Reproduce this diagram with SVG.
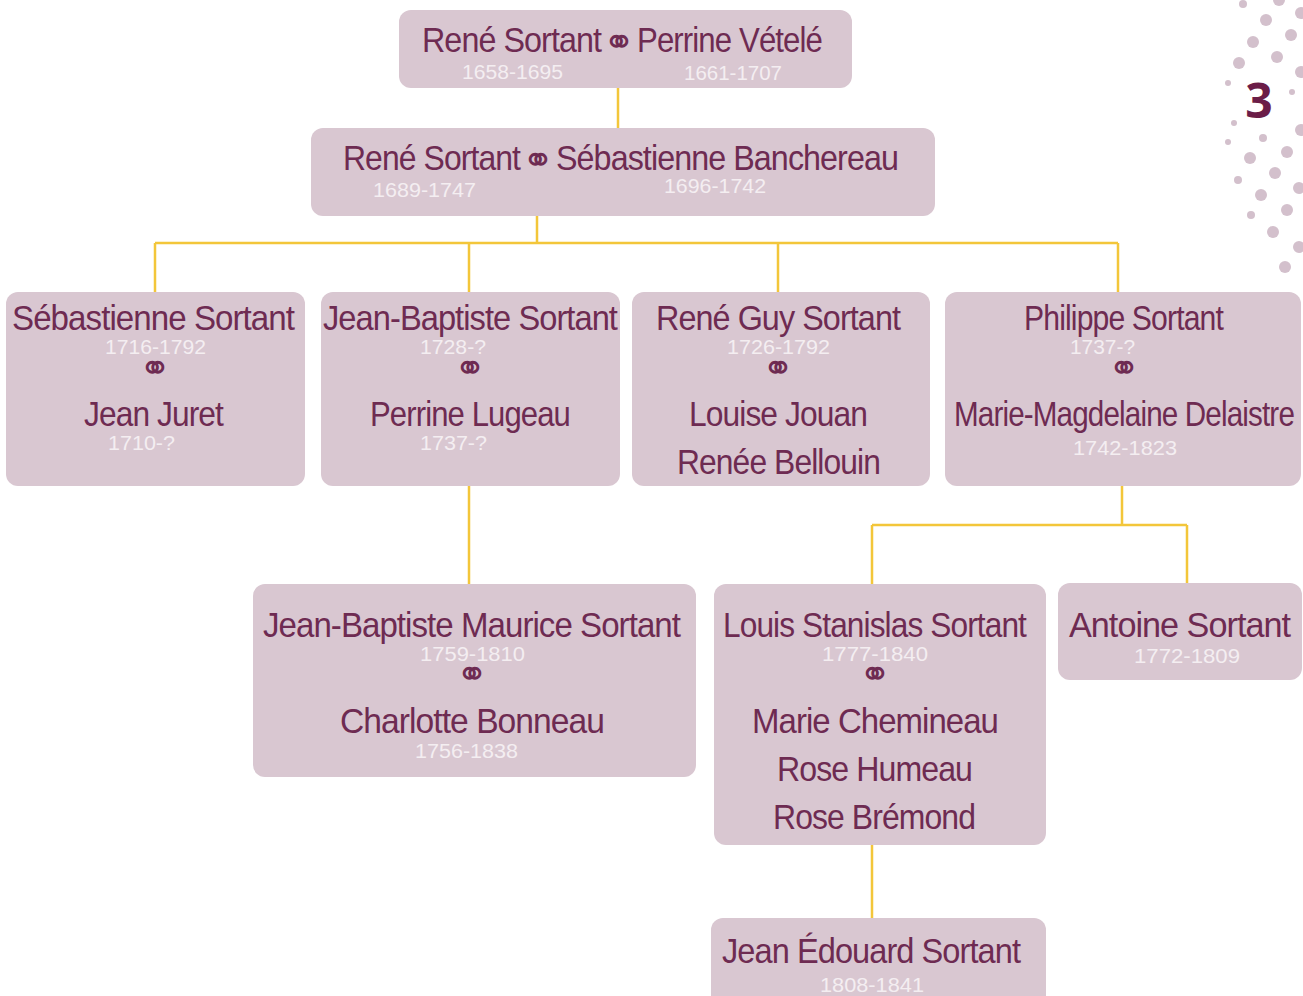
<svg xmlns="http://www.w3.org/2000/svg" width="1303" height="996" viewBox="0 0 1303 996">
<style>
.box{fill:#d9c7d1}
.n{font-family:"Liberation Sans",Arial,sans-serif;font-size:35px;fill:#6e2b52;letter-spacing:-1px}
.d{font-family:"Liberation Sans",Arial,sans-serif;font-size:20px;fill:#f4eef1}
.m{font-family:"DejaVu Sans",sans-serif;font-size:38px;fill:#6e2b52;text-anchor:middle}
.c{fill:none;stroke:#f3c63a;stroke-width:2.5}
.dot{fill:#d3c0cc}
</style>
<rect width="1303" height="996" fill="#ffffff"/>
<g id="decor">
<circle class="dot" cx="1279" cy="0" r="6"/>
<circle class="dot" cx="1266" cy="20" r="6"/>
<circle class="dot" cx="1301" cy="13" r="6"/>
<circle class="dot" cx="1253" cy="42" r="6"/>
<circle class="dot" cx="1291" cy="35" r="6"/>
<circle class="dot" cx="1239" cy="63" r="6"/>
<circle class="dot" cx="1277" cy="57" r="6"/>
<circle class="dot" cx="1301" cy="72" r="6"/>
<circle class="dot" cx="1301" cy="130" r="6"/>
<circle class="dot" cx="1250" cy="158" r="6"/>
<circle class="dot" cx="1287" cy="152" r="6"/>
<circle class="dot" cx="1275" cy="173" r="6"/>
<circle class="dot" cx="1299" cy="188" r="6"/>
<circle class="dot" cx="1261" cy="195" r="6"/>
<circle class="dot" cx="1287" cy="210" r="6"/>
<circle class="dot" cx="1273" cy="232" r="6"/>
<circle class="dot" cx="1299" cy="247" r="6"/>
<circle class="dot" cx="1285" cy="267" r="6"/>
<circle class="dot" cx="1243" cy="4" r="4"/>
<circle class="dot" cx="1228" cy="83" r="3"/>
<circle class="dot" cx="1292" cy="92" r="3"/>
<circle class="dot" cx="1234" cy="123" r="3"/>
<circle class="dot" cx="1263" cy="138" r="4"/>
<circle class="dot" cx="1228" cy="142" r="3"/>
<circle class="dot" cx="1238" cy="180" r="4"/>
<circle class="dot" cx="1251" cy="215" r="4"/>
<text x="1259" y="118" font-family="'Open Sans','Liberation Sans',sans-serif" font-weight="bold" font-size="48" fill="#6b1d48" text-anchor="middle">3</text>
</g>
<g id="connectors">
<path class="c" d="M618 88V128"/>
<path class="c" d="M537 216V243M155 243H1118M155 243V292M469 243V292M778 243V292M1118 243V292"/>
<path class="c" d="M469 486V584"/>
<path class="c" d="M1122 486V525M872 525H1187M872 525V584M1187 525V583"/>
<path class="c" d="M872 845V918"/>
</g>
<g id="n1">
<rect class="box" x="399" y="10" width="453" height="78" rx="12"/>
<text class="n" x="422" y="52" textLength="179" lengthAdjust="spacingAndGlyphs">René Sortant</text>
<text class="m" x="619" y="55">⚭</text>
<text class="n" x="637" y="52" textLength="185" lengthAdjust="spacingAndGlyphs">Perrine Vételé</text>
<text class="d" x="462" y="79" textLength="101" lengthAdjust="spacingAndGlyphs">1658-1695</text>
<text class="d" x="684" y="80" textLength="98" lengthAdjust="spacingAndGlyphs">1661-1707</text>
</g>
<g id="n2">
<rect class="box" x="311" y="128" width="624" height="88" rx="12"/>
<text class="n" x="343" y="170" textLength="177" lengthAdjust="spacingAndGlyphs">René Sortant</text>
<text class="m" x="538" y="173">⚭</text>
<text class="n" x="556" y="170" textLength="342" lengthAdjust="spacingAndGlyphs">Sébastienne Banchereau</text>
<text class="d" x="373" y="197" textLength="103" lengthAdjust="spacingAndGlyphs">1689-1747</text>
<text class="d" x="664" y="193" textLength="102" lengthAdjust="spacingAndGlyphs">1696-1742</text>
</g>
<g id="n3">
<rect class="box" x="6" y="292" width="299" height="194" rx="12"/>
<text class="n" x="12" y="330" textLength="282" lengthAdjust="spacingAndGlyphs">Sébastienne Sortant</text>
<text class="d" x="105" y="354" textLength="101" lengthAdjust="spacingAndGlyphs">1716-1792</text>
<text class="m" x="155" y="381">⚭</text>
<text class="n" x="84" y="426" textLength="139" lengthAdjust="spacingAndGlyphs">Jean Juret</text>
<text class="d" x="108" y="450" textLength="67" lengthAdjust="spacingAndGlyphs">1710-?</text>
</g>
<g id="n4">
<rect class="box" x="321" y="292" width="299" height="194" rx="12"/>
<text class="n" x="323" y="330" textLength="294" lengthAdjust="spacingAndGlyphs">Jean-Baptiste Sortant</text>
<text class="d" x="420" y="354" textLength="66" lengthAdjust="spacingAndGlyphs">1728-?</text>
<text class="m" x="470" y="381">⚭</text>
<text class="n" x="370" y="426" textLength="200" lengthAdjust="spacingAndGlyphs">Perrine Lugeau</text>
<text class="d" x="420" y="450" textLength="67" lengthAdjust="spacingAndGlyphs">1737-?</text>
</g>
<g id="n5">
<rect class="box" x="632" y="292" width="298" height="194" rx="12"/>
<text class="n" x="656" y="330" textLength="244" lengthAdjust="spacingAndGlyphs">René Guy Sortant</text>
<text class="d" x="727" y="354" textLength="103" lengthAdjust="spacingAndGlyphs">1726-1792</text>
<text class="m" x="778" y="381">⚭</text>
<text class="n" x="689" y="426" textLength="178" lengthAdjust="spacingAndGlyphs">Louise Jouan</text>
<text class="n" x="677" y="474" textLength="203" lengthAdjust="spacingAndGlyphs">Renée Bellouin</text>
</g>
<g id="n6">
<rect class="box" x="945" y="292" width="356" height="194" rx="12"/>
<text class="n" x="1024" y="330" textLength="199" lengthAdjust="spacingAndGlyphs">Philippe Sortant</text>
<text class="d" x="1070" y="354" textLength="65" lengthAdjust="spacingAndGlyphs">1737-?</text>
<text class="m" x="1124" y="381">⚭</text>
<text class="n" x="954" y="426" textLength="340" lengthAdjust="spacingAndGlyphs">Marie-Magdelaine Delaistre</text>
<text class="d" x="1073" y="455" textLength="104" lengthAdjust="spacingAndGlyphs">1742-1823</text>
</g>
<g id="n7">
<rect class="box" x="253" y="584" width="443" height="193" rx="12"/>
<text class="n" x="263" y="637" textLength="417" lengthAdjust="spacingAndGlyphs">Jean-Baptiste  Maurice Sortant</text>
<text class="d" x="420" y="661" textLength="105" lengthAdjust="spacingAndGlyphs">1759-1810</text>
<text class="m" x="472" y="687">⚭</text>
<text class="n" x="340" y="733" textLength="264" lengthAdjust="spacingAndGlyphs">Charlotte Bonneau</text>
<text class="d" x="415" y="758" textLength="103" lengthAdjust="spacingAndGlyphs">1756-1838</text>
</g>
<g id="n8">
<rect class="box" x="714" y="584" width="332" height="261" rx="12"/>
<text class="n" x="723" y="637" textLength="303" lengthAdjust="spacingAndGlyphs">Louis Stanislas Sortant</text>
<text class="d" x="822" y="661" textLength="106" lengthAdjust="spacingAndGlyphs">1777-1840</text>
<text class="m" x="875" y="687">⚭</text>
<text class="n" x="752" y="733" textLength="246" lengthAdjust="spacingAndGlyphs">Marie Chemineau</text>
<text class="n" x="777" y="781" textLength="195" lengthAdjust="spacingAndGlyphs">Rose Humeau</text>
<text class="n" x="773" y="829" textLength="202" lengthAdjust="spacingAndGlyphs">Rose Brémond</text>
</g>
<g id="n9">
<rect class="box" x="1058" y="583" width="244" height="97" rx="12"/>
<text class="n" x="1069" y="637" textLength="221" lengthAdjust="spacingAndGlyphs">Antoine Sortant</text>
<text class="d" x="1134" y="663" textLength="106" lengthAdjust="spacingAndGlyphs">1772-1809</text>
</g>
<g id="n10">
<rect class="box" x="711" y="918" width="335" height="90" rx="12"/>
<text class="n" x="722" y="963" textLength="298" lengthAdjust="spacingAndGlyphs">Jean Édouard Sortant</text>
<text class="d" x="820" y="992" textLength="104" lengthAdjust="spacingAndGlyphs">1808-1841</text>
</g>
</svg>
